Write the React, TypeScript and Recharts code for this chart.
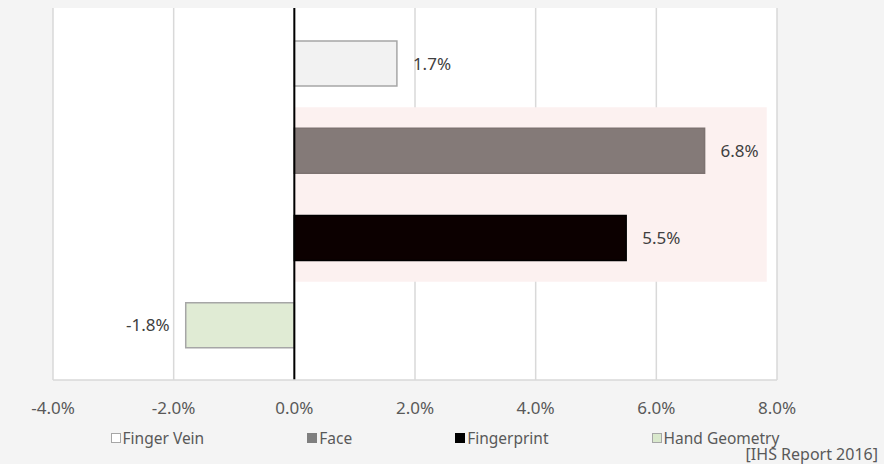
import {
  BarChart,
  Bar,
  XAxis,
  YAxis,
  CartesianGrid,
  ReferenceArea,
  ReferenceLine,
  LabelList,
  Legend,
  Cell,
} from "recharts";

// Biometric market growth by technology (IHS Report 2016)
const categories = ["Finger Vein", "Face", "Fingerprint", "Hand Geometry"];
const growth = [1.7, 6.8, 5.5, -1.8];
const xTicks = [-4, -2, 0, 2, 4, 6, 8];
const highlightFrom = "Face";
const highlightTo = "Fingerprint";
const highlightEnd = 7.83;
const sourceNote = "[IHS Report 2016]";

const barFills = ["#f2f2f2", "#847a78", "#0c0000", "#e0ebd4"];
const barStrokes = ["#a6a6a6", "#7d7371", "#000000", "#a6a6a6"];
const legendFills = ["#ffffff", "#7f7f7f", "#000000", "#d9e8cc"];
const legendStrokes = ["#a6a6a6", "#7f7f7f", "#000000", "#a6a6a6"];

const FONT = "'Noto Sans', 'Open Sans', sans-serif";

const data = categories.map((name, i) => ({ name, value: growth[i] }));

const pct = (v: number) => `${v.toFixed(1)}%`;

function ValueLabel(props: any) {
  const { x, y, width, height, value } = props;
  const left = Math.min(x, x + width);
  const right = Math.max(x, x + width);
  const neg = value < 0;
  return (
    <text
      x={neg ? left - 16 : right + 16}
      y={y + height / 2}
      dy="0.36em"
      textAnchor={neg ? "end" : "start"}
      fill="#404040"
      fontSize={17}
      fontFamily={FONT}
    >
      {pct(value)}
    </text>
  );
}

function LegendRow() {
  return (
    <div
      style={{
        display: "flex",
        justifyContent: "center",
        gap: 103,
        fontFamily: FONT,
        fontSize: 15.5,
        color: "#595959",
        lineHeight: "20px",
        paddingLeft: 6,
      }}
    >
      {categories.map((c, i) => (
        <div key={c} style={{ display: "flex", alignItems: "center" }}>
          <span
            style={{
              display: "inline-block",
              width: 8,
              height: 8,
              background: legendFills[i],
              border: `1px solid ${legendStrokes[i]}`,
              marginRight: 2,
            }}
          />
          {c}
        </div>
      ))}
    </div>
  );
}

export default function App() {
  return (
    <div
      style={{
        position: "absolute",
        left: 0,
        top: 0,
        width: 884,
        height: 464,
        background: "#f4f4f4",
        overflow: "hidden",
      }}
    >
      <BarChart
        width={884}
        height={464}
        data={data}
        layout="vertical"
        margin={{ top: 8, right: 107, bottom: 44, left: 53 }}
      >
        <CartesianGrid
          horizontal={false}
          stroke="#d9d9d9"
          strokeWidth={1.5}
          fill="#ffffff"
          fillOpacity={1}
        />
        <XAxis
          type="number"
          domain={[-4, 8]}
          ticks={xTicks}
          tickFormatter={pct}
          height={40}
          axisLine={{ stroke: "#d9d9d9", strokeWidth: 1.5 }}
          tickLine={false}
          tickMargin={16}
          tick={{ fill: "#595959", fontSize: 17, fontFamily: FONT }}
        />
        <YAxis
          type="category"
          dataKey="name"
          hide
          padding={{ top: 12, bottom: 11 }}
        />
        <ReferenceArea
          x1={0}
          x2={highlightEnd}
          y1={highlightFrom}
          y2={highlightTo}
          fill="#fcf1f0"
          fillOpacity={1}
          stroke="none"
          ifOverflow="visible"
        />
        <Legend
          layout="horizontal"
          verticalAlign="middle"
          wrapperStyle={{ left: 0, top: 428, width: 884 }}
          content={() => <LegendRow />}
        />
        <Bar dataKey="value" barSize={45} isAnimationActive={false}>
          {data.map((d, i) => (
            <Cell
              key={d.name}
              fill={barFills[i]}
              stroke={barStrokes[i]}
              strokeWidth={1.5}
            />
          ))}
          <LabelList dataKey="value" content={ValueLabel} />
        </Bar>
        <ReferenceLine x={0} stroke="#000000" strokeWidth={2} />
      </BarChart>
      <div
        style={{
          position: "absolute",
          right: 6,
          top: 445,
          fontFamily: FONT,
          fontSize: 16,
          color: "#595959",
          lineHeight: "18px",
        }}
      >
        {sourceNote}
      </div>
    </div>
  );
}
